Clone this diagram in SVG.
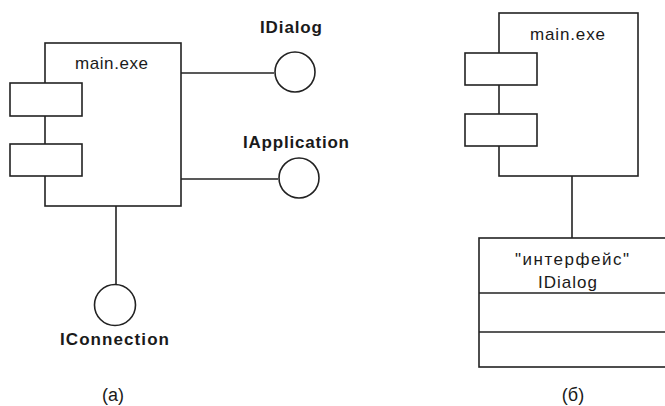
<svg xmlns="http://www.w3.org/2000/svg" width="665" height="406" viewBox="0 0 665 406">
<style>
.s{fill:#fff;stroke:#222;stroke-width:1.6}
.l{stroke:#222;stroke-width:1.6;fill:none}
.t{font-family:"Liberation Sans",Arial,sans-serif;fill:#1a1a1a}
.b{font-weight:bold;font-size:17px}
.r{font-size:17px}
</style>
<rect width="665" height="406" fill="#fff"/>
<g id="connectors">
<line class="l" x1="181" y1="73" x2="274" y2="73"/>
<line class="l" x1="181" y1="179" x2="278" y2="179"/>
<line class="l" x1="116" y1="206" x2="116" y2="285"/>
<line class="l" x1="572" y1="176" x2="572" y2="238"/>
</g>
<g id="component-a">
<rect class="s" x="45" y="43" width="136" height="163"/>
<rect class="s" x="10" y="83" width="72" height="33"/>
<rect class="s" x="10" y="144" width="72" height="32"/>
<text class="t r" x="75" y="69" textLength="73">main.exe</text>
</g>
<g id="idialog">
<circle class="s" cx="295" cy="72" r="20"/>
<text class="t b" x="260" y="33" textLength="62">IDialog</text>
</g>
<g id="iapplication">
<circle class="s" cx="299" cy="178" r="20"/>
<text class="t b" x="243" y="148" textLength="106">IApplication</text>
</g>
<g id="iconnection">
<circle class="s" cx="115" cy="305" r="20.5"/>
<text class="t b" x="60" y="345" textLength="109">IConnection</text>
</g>
<text class="t" x="113" y="401" font-size="18" text-anchor="middle">(a)</text>
<g id="component-b">
<rect class="s" x="499" y="13" width="139" height="163"/>
<rect class="s" x="465" y="53" width="72" height="32"/>
<rect class="s" x="465" y="114" width="72" height="32"/>
<text class="t r" x="530" y="40" textLength="75">main.exe</text>
</g>
<g id="interface-idialog">
<rect class="s" x="479" y="238" width="200" height="129"/>
<line class="l" x1="479" y1="293" x2="665" y2="293"/>
<line class="l" x1="479" y1="332" x2="665" y2="332"/>
<text class="t r" x="515" y="265" textLength="114">"интерфейс"</text>
<text class="t r" x="538" y="288" textLength="59">IDialog</text>
</g>
<text class="t" x="573" y="401" font-size="18" text-anchor="middle">(б)</text>
</svg>
